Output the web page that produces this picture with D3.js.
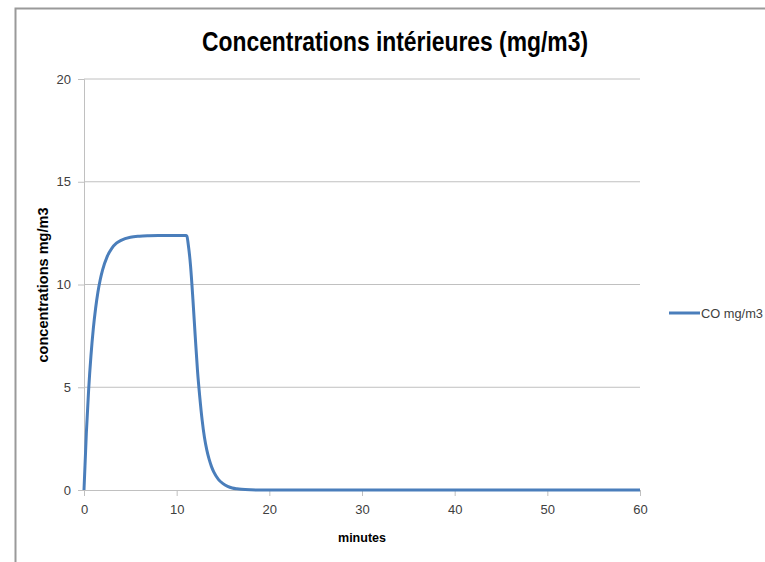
<!DOCTYPE html>
<html>
<head>
<meta charset="utf-8">
<script src="https://cdn.jsdelivr.net/npm/d3@7"></script>
<style>
  html, body { margin: 0; padding: 0; background: #fff; }
  svg { display: block; }
</style>
</head>
<body>
<svg id="chart" width="765" height="562"></svg>
<script>
// ---- data ----
const minutes = [0, 0.25, 0.5, 0.75, 1, 1.25, 1.5, 1.75, 2, 2.5, 3, 3.5, 4, 5, 6, 7, 8, 9, 10, 11, 11.1,
  11.25, 11.5, 11.75, 12, 12.25, 12.5, 12.75, 13, 13.25, 13.5, 13.75, 14, 14.5, 15, 15.5, 16, 16.5, 17, 18, 19, 20,
  25, 30, 35, 40, 45, 50, 55, 60];
const coValues = [0, 2.74, 4.87, 6.53, 7.83, 8.83, 9.62, 10.23, 10.70, 11.36, 11.76, 12.01, 12.15, 12.30, 12.35, 12.37, 12.38, 12.38, 12.38, 12.38, 12.35,
  11.95, 10.9, 9.3, 7.5, 5.8, 4.5, 3.4, 2.55, 1.95, 1.5, 1.15, 0.88, 0.52, 0.31, 0.18, 0.1, 0.06, 0.035, 0.01, 0, 0,
  0, 0, 0, 0, 0, 0, 0, 0];
const xTicks = [0, 10, 20, 30, 40, 50, 60];
const yTicks = [0, 5, 10, 15, 20];
const seriesName = "CO mg/m3";
const chartTitle = "Concentrations intérieures (mg/m3)";
const xTitle = "minutes";
const yTitle = "concentrations mg/m3";

// ---- layout ----
const svg = d3.select("#chart");
const font = "'Liberation Sans Narrow', 'Liberation Sans', Arial, sans-serif";
const plotLeft = 84, plotRight = 640, plotTop = 79, plotBottom = 490;

const x = d3.scaleLinear().domain([0, 60]).range([plotLeft, plotRight]);
const y = d3.scaleLinear().domain([0, 20]).range([plotBottom, plotTop]);

// outer frame
svg.append("path")
  .attr("d", "M15.5,562 L15.5,8.5 L765,8.5")
  .attr("fill", "none").attr("stroke", "#9a9a9a").attr("stroke-width", 2);

// gridlines
svg.append("g").selectAll("line").data(yTicks.filter(d => d > 0)).join("line")
  .attr("x1", plotLeft).attr("x2", plotRight)
  .attr("y1", d => y(d)).attr("y2", d => y(d))
  .attr("stroke", "#c0c0c0").attr("stroke-width", 1);

// y axis
const yAxis = svg.append("g").attr("transform", `translate(${plotLeft},0)`)
  .call(d3.axisLeft(y).tickValues(yTicks).tickSize(6).tickPadding(7));
yAxis.select(".domain").attr("stroke", "#c0c0c0");
yAxis.selectAll(".tick line").attr("stroke", "#c0c0c0");
yAxis.selectAll("text").attr("font-family", font).attr("font-size", 13).attr("fill", "#404040");

// x axis
const xAxis = svg.append("g").attr("transform", `translate(0,${plotBottom})`)
  .call(d3.axisBottom(x).tickValues(xTicks).tickSize(6).tickPadding(9));
xAxis.select(".domain").attr("stroke", "#c0c0c0");
xAxis.selectAll(".tick line").attr("stroke", "#c0c0c0");
xAxis.selectAll("text").attr("font-family", font).attr("font-size", 13).attr("fill", "#404040");

// line
const pts = minutes.map((m, i) => [m, coValues[i]]);
svg.append("path").datum(pts)
  .attr("fill", "none").attr("stroke", "#4a7ebb").attr("stroke-width", 3)
  .attr("stroke-linejoin", "round")
  .attr("d", d3.line().x(d => x(d[0])).y(d => y(d[1])).curve(d3.curveMonotoneX));

// title
svg.append("text").attr("x", 395).attr("y", 51).attr("text-anchor", "middle")
  .attr("font-family", font).attr("font-weight", "bold").attr("font-size", 27)
  .attr("textLength", 386).attr("lengthAdjust", "spacingAndGlyphs")
  .attr("fill", "#000").text(chartTitle);

// axis titles
svg.append("text").attr("x", 362).attr("y", 542).attr("text-anchor", "middle")
  .attr("font-family", font).attr("font-weight", "bold").attr("font-size", 13)
  .attr("textLength", 48).attr("lengthAdjust", "spacingAndGlyphs")
  .attr("fill", "#000").text(xTitle);
svg.append("text").attr("transform", "translate(48,285) rotate(-90)").attr("text-anchor", "middle")
  .attr("font-family", font).attr("font-weight", "bold").attr("font-size", 14)
  .attr("textLength", 155).attr("lengthAdjust", "spacingAndGlyphs")
  .attr("fill", "#000").text(yTitle);

// legend
svg.append("line").attr("x1", 669).attr("x2", 700).attr("y1", 313).attr("y2", 313)
  .attr("stroke", "#4a7ebb").attr("stroke-width", 3);
svg.append("text").attr("x", 701).attr("y", 318)
  .attr("font-family", font).attr("font-size", 13)
  .attr("textLength", 62).attr("lengthAdjust", "spacingAndGlyphs")
  .attr("fill", "#404040").text(seriesName);
</script>
</body>
</html>
